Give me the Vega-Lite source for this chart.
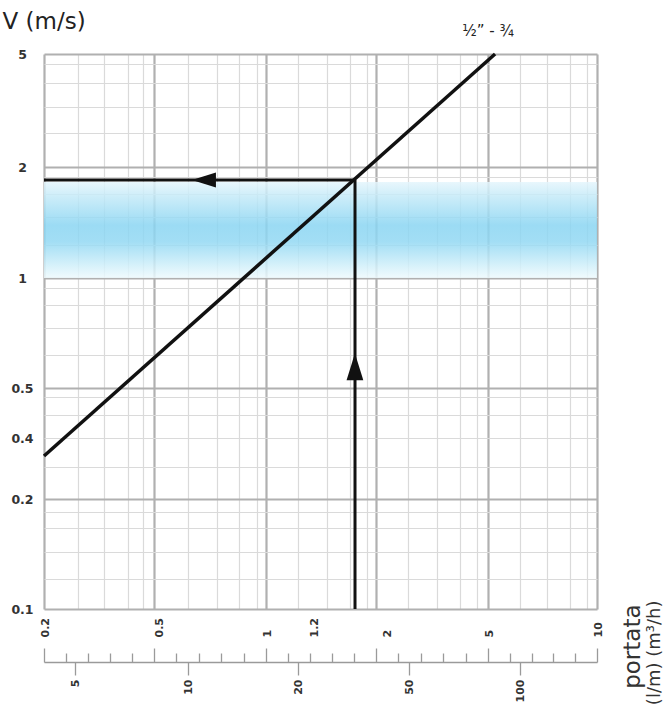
{
  "$schema": "https://vega.github.io/schema/vega-lite/v6.json",
  "width": 553,
  "height": 555,
  "autosize": {"type": "none"},
  "padding": {"left": 44, "top": 54, "right": 69, "bottom": 99},
  "background": "white",
  "config": {"view": {"stroke": null}, "font": "DejaVu Sans"},
  "datasets": {
    "band": [{"q0": 0.2, "q1": 10, "v0": 1, "v1": 1.82}],
    "curve": [{"q": 0.2, "v": 0.326}, {"q": 5.23, "v": 5}],
    "curveLabel": [{"q": 5.23, "v": 5, "label": "½”  -  ¾"}],
    "hline": [{"q0": 0.2, "q1": 1.687, "v": 1.844}],
    "vline": [{"q": 1.687, "v0": 0.1, "v1": 1.844}],
    "leftArrow": [{"q": 0.681, "v": 1.844}],
    "upArrow": [{"lpm": 32, "v": 0.572}]
  },
  "resolve": {"scale": {"x": "independent"}, "axis": {"x": "independent"}},
  "layer": [
    {
      "layer": [
        {
          "data": {"name": "band"},
          "mark": {
            "type": "rect",
            "opacity": 0.85,
            "fill": {
              "gradient": "linear", "x1": 0, "y1": 0, "x2": 0, "y2": 1,
              "stops": [
                {"offset": 0, "color": "#e4f5fc"},
                {"offset": 0.15, "color": "#c4eaf8"},
                {"offset": 0.45, "color": "#8ad5f2"},
                {"offset": 0.62, "color": "#92d8f3"},
                {"offset": 0.88, "color": "#d2f0fa"},
                {"offset": 1, "color": "#eefafd"}
              ]
            }
          },
          "encoding": {
            "x": {
              "field": "q0", "type": "quantitative",
              "scale": {"type": "log", "domain": [0.2, 0.5, 1, 1.2, 2, 5, 10], "range": [0, 110, 222, 269, 332, 444, 553], "nice": false},
              "axis": {
                "orient": "bottom", "offset": 0, "title": null,
                "values": [0.2, 0.265, 0.329, 0.401, 0.455, 0.5, 0.616, 0.737, 0.844, 0.946, 1, 1.132, 1.2, 1.344, 1.62, 1.859, 2, 2.6, 3.3, 3.98, 4.57, 5, 6.13, 7.27, 8.42, 9.38, 10],
                "grid": true,
                "gridColor": {"condition": {"test": "indexof([0.2,0.5,1,2,5,10], datum.value) >= 0", "value": "#b0b0b0"}, "value": "#dadada"},
                "gridWidth": {"condition": {"test": "indexof([0.2,0.5,1,2,5,10], datum.value) >= 0", "value": 2.2}, "value": 1.2},
                "gridOpacity": {"condition": {"test": "datum.value == 1.2", "value": 0}, "value": 1},
                "ticks": false, "domain": false,
                "format": "~g",
                "labelExpr": "indexof([0.2,0.5,1,1.2,2,5,10], datum.value) >= 0 ? datum.label : ''",
                "labelAngle": 270, "labelAlign": "left", "labelBaseline": "middle", "labelPadding": 28,
                "labelOffset": {"condition": [{"test": "datum.value == 2", "value": 11}, {"test": "datum.value == 0.5", "value": 5}], "value": 1},
                "labelFont": "DejaVu Sans", "labelFontWeight": "bold", "labelFontSize": 11, "labelColor": "#333",
                "labelOverlap": false, "labelFlush": false
              }
            },
            "x2": {"field": "q1"},
            "y": {
              "field": "v0", "type": "quantitative",
              "scale": {"type": "log", "domain": [0.1, 0.2, 0.4, 0.5, 1, 2, 5], "range": [555, 445, 384, 334, 224, 113, 0], "nice": false},
              "axis": {
                "orient": "left",
                "values": [0.1, 0.121, 0.143, 0.167, 0.184, 0.2, 0.288, 0.4, 0.443, 0.48, 0.5, 0.616, 0.732, 0.844, 0.94, 1, 1.231, 1.464, 1.688, 1.879, 2, 2.63, 3.25, 3.95, 4.6, 5],
                "grid": true,
                "gridColor": {"condition": {"test": "indexof([0.1,0.2,0.5,1,2,5], datum.value) >= 0", "value": "#b0b0b0"}, "value": "#dadada"},
                "gridWidth": {"condition": {"test": "indexof([0.1,0.2,0.5,1,2,5], datum.value) >= 0", "value": 2.2}, "value": 1.2},
                "ticks": false, "domain": false,
                "format": "~g",
                "labelExpr": "indexof([0.1,0.2,0.4,0.5,1,2,5], datum.value) >= 0 ? datum.label : ''",
                "labelAlign": "center", "labelBaseline": "middle", "labelPadding": 22,
                "labelFont": "DejaVu Sans", "labelFontWeight": "bold", "labelFontSize": 12.5, "labelColor": "#333",
                "labelOverlap": false, "labelFlush": false,
                "title": "V (m/s)", "titleAngle": 0, "titleAlign": "left", "titleBaseline": "alphabetic",
                "titleX": -42, "titleY": -26, "titleFont": "DejaVu Sans", "titleFontSize": 23, "titleFontWeight": "normal", "titleColor": "#222"
              }
            },
            "y2": {"field": "v1"}
          }
        },
        {
          "data": {"name": "curve"},
          "mark": {"type": "line", "color": "#111", "strokeWidth": 3.5},
          "encoding": {
            "x": {"field": "q", "type": "quantitative", "scale": {"type": "log", "domain": [0.2, 0.5, 1, 1.2, 2, 5, 10], "range": [0, 110, 222, 269, 332, 444, 553], "nice": false}},
            "y": {"field": "v", "type": "quantitative", "scale": {"type": "log", "domain": [0.1, 0.2, 0.4, 0.5, 1, 2, 5], "range": [555, 445, 384, 334, 224, 113, 0], "nice": false}}
          }
        },
        {
          "data": {"name": "curveLabel"},
          "mark": {"type": "text", "dx": -7, "dy": -23, "fontSize": 15, "font": "DejaVu Sans", "color": "#222", "align": "center", "baseline": "middle"},
          "encoding": {
            "x": {"field": "q", "type": "quantitative", "scale": {"type": "log", "domain": [0.2, 0.5, 1, 1.2, 2, 5, 10], "range": [0, 110, 222, 269, 332, 444, 553], "nice": false}},
            "y": {"field": "v", "type": "quantitative", "scale": {"type": "log", "domain": [0.1, 0.2, 0.4, 0.5, 1, 2, 5], "range": [555, 445, 384, 334, 224, 113, 0], "nice": false}},
            "text": {"field": "label"}
          }
        },
        {
          "data": {"name": "hline"},
          "mark": {"type": "rule", "color": "#111", "strokeWidth": 3},
          "encoding": {
            "x": {"field": "q0", "type": "quantitative", "scale": {"type": "log", "domain": [0.2, 0.5, 1, 1.2, 2, 5, 10], "range": [0, 110, 222, 269, 332, 444, 553], "nice": false}},
            "x2": {"field": "q1"},
            "y": {"field": "v", "type": "quantitative", "scale": {"type": "log", "domain": [0.1, 0.2, 0.4, 0.5, 1, 2, 5], "range": [555, 445, 384, 334, 224, 113, 0], "nice": false}}
          }
        },
        {
          "data": {"name": "leftArrow"},
          "mark": {"type": "point", "shape": "M-1,0L1,-0.62L1,0.62Z", "size": 576, "filled": true, "color": "#111", "opacity": 1},
          "encoding": {
            "x": {"field": "q", "type": "quantitative", "scale": {"type": "log", "domain": [0.2, 0.5, 1, 1.2, 2, 5, 10], "range": [0, 110, 222, 269, 332, 444, 553], "nice": false}},
            "y": {"field": "v", "type": "quantitative", "scale": {"type": "log", "domain": [0.1, 0.2, 0.4, 0.5, 1, 2, 5], "range": [555, 445, 384, 334, 224, 113, 0], "nice": false}}
          }
        }
      ]
    },
    {
      "data": {"name": "vline"},
      "mark": {"type": "rule", "color": "#111", "strokeWidth": 3},
      "encoding": {
        "x": {
          "field": "q", "type": "quantitative",
          "scale": {"type": "log", "domain": [0.2, 0.5, 1, 1.2, 2, 5, 10], "range": [0, 110, 222, 269, 332, 444, 553], "nice": false},
          "axis": {
            "orient": "bottom", "offset": 53,
            "values": [0.2, 0.24, 0.289, 0.347, 0.416, 0.5, 0.574, 0.66, 0.758, 0.871, 1, 1.089, 1.186, 1.4, 1.673, 2, 2.402, 2.886, 3.466, 4.163, 5, 5.743, 6.598, 7.579, 8.706, 10],
            "grid": false, "labels": false, "ticks": true,
            "tickSize": {"condition": {"test": "indexof([0.2,0.5,1,2,5,10], datum.value) >= 0", "value": -14}, "value": -9},
            "tickColor": "#9a9a9a", "tickWidth": 1.3,
            "domain": true, "domainColor": "#9a9a9a", "domainWidth": 1.5,
            "title": "portata", "titleAngle": 270, "titleAlign": "right", "titleBaseline": "middle",
            "titleX": 588, "titleY": -58, "titleFont": "DejaVu Sans", "titleFontSize": 23, "titleFontWeight": "normal", "titleColor": "#333"
          }
        },
        "y": {"field": "v0", "type": "quantitative", "scale": {"type": "log", "domain": [0.1, 0.2, 0.4, 0.5, 1, 2, 5], "range": [555, 445, 384, 334, 224, 113, 0], "nice": false}},
        "y2": {"field": "v1"}
      }
    },
    {
      "data": {"name": "upArrow"},
      "mark": {"type": "point", "shape": "M0,-1L0.62,1L-0.62,1Z", "size": 729, "filled": true, "color": "#111", "opacity": 1},
      "encoding": {
        "x": {
          "field": "lpm", "type": "quantitative",
          "scale": {"type": "log", "domain": [3.33, 5, 10, 20, 50, 100, 166.7], "range": [0, 31, 144, 254, 365, 476, 553], "nice": false},
          "axis": {
            "orient": "bottom", "offset": 53,
            "values": [5, 10, 20, 50, 100], "format": "~g",
            "grid": false, "domain": false, "ticks": true, "tickSize": 13, "tickColor": "#9a9a9a", "tickWidth": 1.3,
            "labelAngle": 270, "labelAlign": "right", "labelBaseline": "middle", "labelPadding": 4,
            "labelFont": "DejaVu Sans", "labelFontWeight": "bold", "labelFontSize": 11, "labelColor": "#333",
            "labelOverlap": false, "labelFlush": false,
            "title": "(l/m) (m³/h)", "titleAngle": 270, "titleAlign": "right", "titleBaseline": "middle",
            "titleX": 610, "titleY": -62, "titleFont": "DejaVu Sans", "titleFontSize": 18, "titleFontWeight": "normal", "titleColor": "#333"
          }
        },
        "y": {"field": "v", "type": "quantitative", "scale": {"type": "log", "domain": [0.1, 0.2, 0.4, 0.5, 1, 2, 5], "range": [555, 445, 384, 334, 224, 113, 0], "nice": false}}
      }
    }
  ]
}
